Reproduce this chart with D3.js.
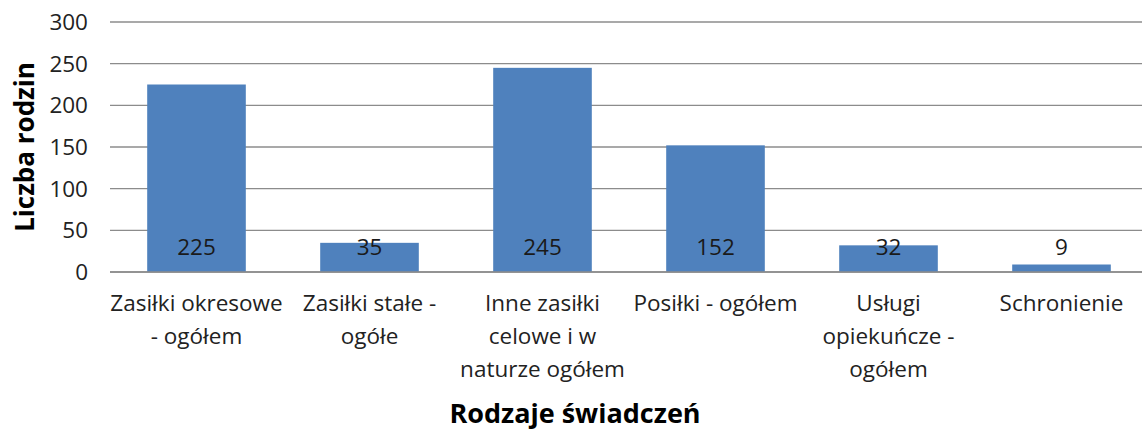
<!DOCTYPE html>
<html>
<head>
<meta charset="utf-8">
<script src="https://cdn.jsdelivr.net/npm/d3@7"></script>
<style>
    body { margin: 0; background: #fff; }
    svg { display: block; font-family: "Open Sans", sans-serif; }
    .grid line { stroke: #8c8c8c; stroke-width: 1.3; }
    .tick-label { fill: #222; font-size: 22.5px; }
    .cat-label { fill: #222; font-size: 22.5px; }
    .val-label { fill: #1a1a1a; font-size: 22.5px; }
    .title { fill: #000; font-weight: bold; }
</style>
</head>
<body>
<svg class="bar-chart" width="1142" height="432"></svg>
<script>
"use strict";

var categories = [
    ["Zasiłki okresowe", "- ogółem"],
    ["Zasiłki stałe -", "ogółe"],
    ["Inne zasiłki", "celowe i w", "naturze ogółem"],
    ["Posiłki - ogółem"],
    ["Usługi", "opiekuńcze -", "ogółem"],
    ["Schronienie"]
];
var values = [225, 35, 245, 152, 32, 9];
var yTicks = [0, 50, 100, 150, 200, 250, 300];

function drawBarChart() {
    var svg = d3.select("svg.bar-chart");
    var margin = { left: 110, right: 1148, top: 22, bottom: 272 };

    var x = d3.scaleBand().domain(d3.range(values.length)).range([margin.left, margin.right]).paddingInner(0.43).paddingOuter(0.215);
    var y = d3.scaleLinear().domain([0, 300]).range([margin.bottom, margin.top]);

    // gridlines
    svg.append("g").attr("class", "grid")
        .selectAll("line").data(yTicks).enter().append("line")
        .attr("x1", margin.left).attr("x2", margin.right)
        .attr("y1", function (d) { return y(d); })
        .attr("y2", function (d) { return y(d); });

    svg.append("g").selectAll("text").data(yTicks).enter().append("text")
        .attr("class", "tick-label")
        .attr("x", 88).attr("y", function (d) { return y(d); })
        .attr("dy", "0.36em").attr("text-anchor", "end")
        .text(function (d) { return d; });

    // bars
    svg.append("g").selectAll("rect").data(values).enter().append("rect")
        .attr("x", function (d, i) { return x(i); })
        .attr("y", function (d) { return y(d); })
        .attr("width", x.bandwidth())
        .attr("height", function (d) { return margin.bottom - y(d); })
        .attr("fill", "#4f81bd");

    // zero line over the bars
    svg.append("line").attr("x1", margin.left).attr("x2", margin.right)
        .attr("y1", y(0)).attr("y2", y(0))
        .attr("stroke", "#8c8c8c").attr("stroke-width", 1.3);

    svg.append("g").selectAll("text").data(values).enter().append("text")
        .attr("class", "val-label")
        .attr("x", function (d, i) { return x(i) + x.bandwidth() / 2; })
        .attr("y", 255).attr("text-anchor", "middle")
        .text(function (d) { return d; });

    // category labels
    var cat = svg.append("g").selectAll("text").data(categories).enter().append("text")
        .attr("class", "cat-label").attr("text-anchor", "middle")
        .attr("transform", function (d, i) { return "translate(" + (x(i) + x.bandwidth() / 2) + ",311)"; });
    cat.selectAll("tspan").data(function (d) { return d; }).enter().append("tspan")
        .attr("x", 0).attr("y", function (d, i) { return i * 33; })
        .text(function (d) { return d; });

    // axis titles
    svg.append("text").attr("class", "title")
        .attr("transform", "translate(34," + ((margin.top + margin.bottom) / 2) + ") rotate(-90)")
        .attr("text-anchor", "middle").style("font-size", "26px")
        .text("Liczba rodzin");

    svg.append("text").attr("class", "title")
        .attr("x", 575).attr("y", 423).attr("text-anchor", "middle")
        .style("font-size", "27px")
        .text("Rodzaje świadczeń");
}

drawBarChart();
</script>
</body>
</html>
